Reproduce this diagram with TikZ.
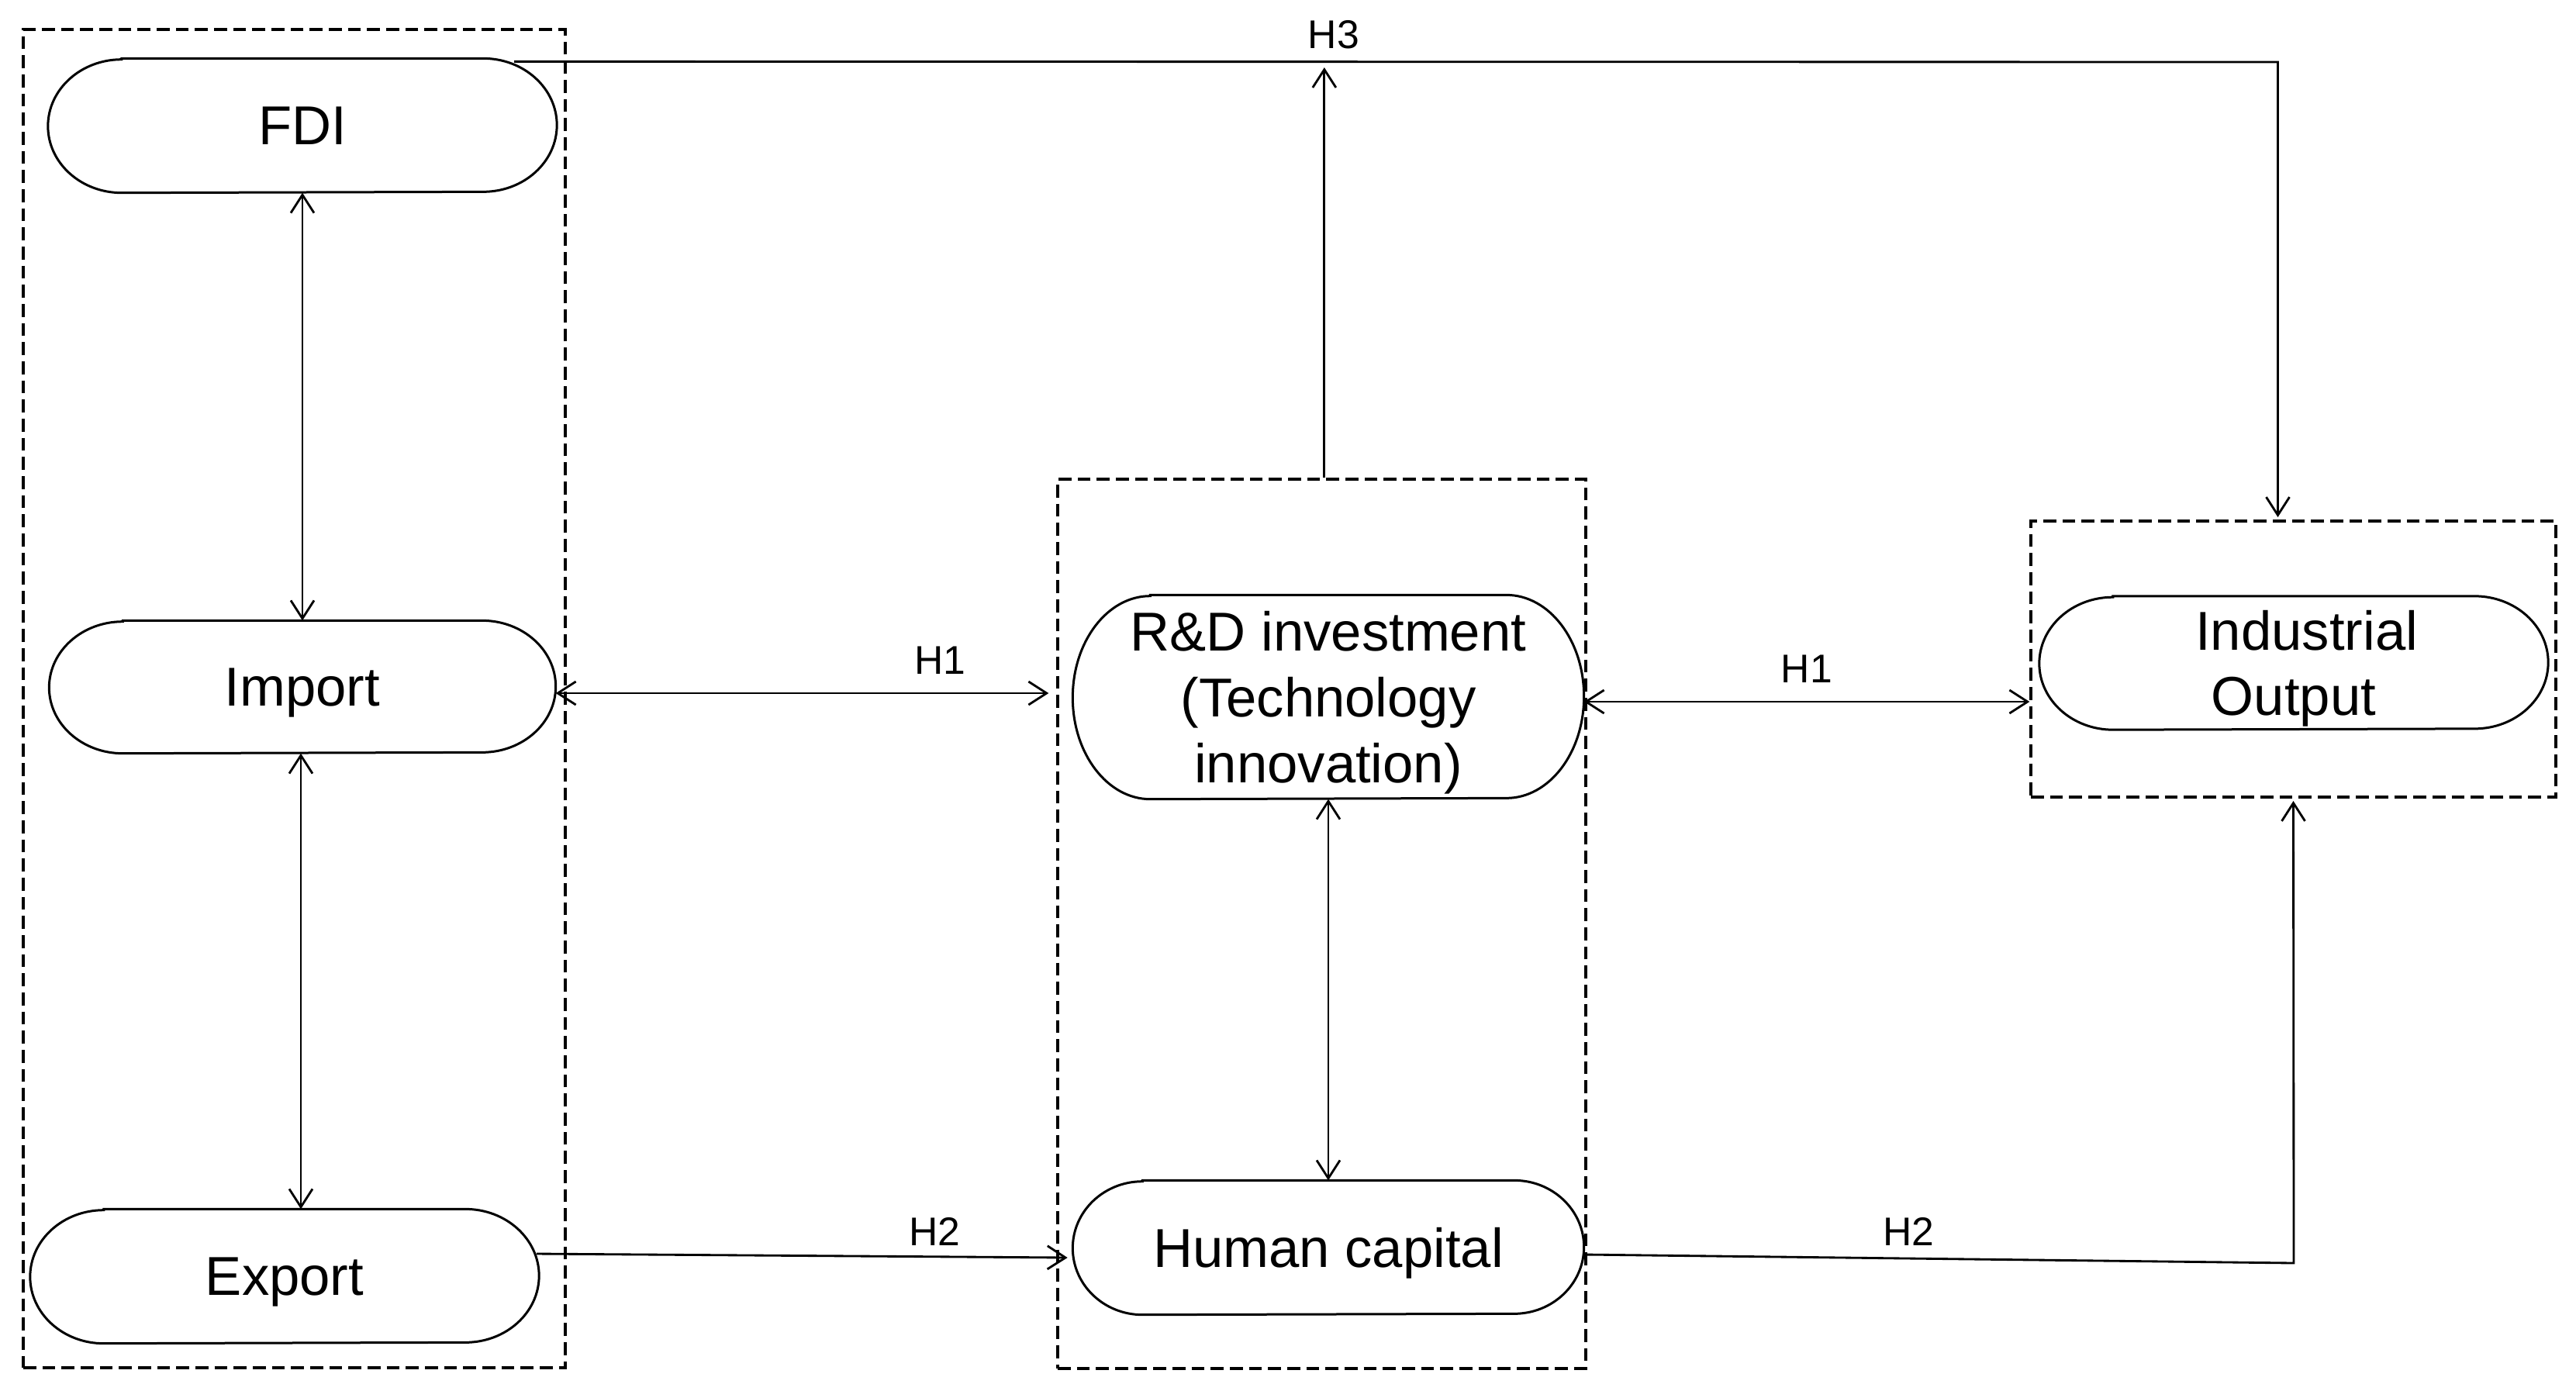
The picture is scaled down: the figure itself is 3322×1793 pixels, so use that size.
\documentclass[tikz,border=0pt]{standalone}
\usepackage{fontspec}
\setmainfont{Liberation Sans}
\usetikzlibrary{arrows.meta,calc}
\tikzset{
  pillnode/.style={draw=none, rectangle, inner sep=0pt, align=center, text depth=0pt,
    font=\fontsize{21.2}{25.4}\selectfont},
  pillline/.style={draw=black, line width=0.9pt},
  dashbox/.style={draw=black, line width=1pt, dash pattern=on 5pt off 2.4pt, rectangle, inner sep=0pt},
  conn/.style={draw=black, line width=0.85pt},
  hlabel/.style={font=\fontsize{15.5}{18}\selectfont, inner sep=0pt},
  >={Straight Barb[length=7pt,width=9pt]}
}
\newcommand\pillborder[3]{%
  \draw[pillline] ([xshift=#2]#1.north west) -- ([xshift=-#2]#1.north east)
    arc[start angle=90,end angle=-90,x radius=#2,y radius=#3]
    -- ([xshift=#2]#1.south west)
    arc[start angle=270,end angle=90,x radius=#2,y radius=#3] -- cycle;}
\begin{document}
\begin{tikzpicture}[x=0.3pt,y=-0.3pt]
\fill[white] (0,0) rectangle (3322,1793);
\useasboundingbox (0,0) rectangle (3322,1793);

% dashed group boxes
\node[dashbox, minimum width=209.7pt, minimum height=517.8pt] (box1) at (379.5,901) {};
\node[dashbox, minimum width=204.3pt, minimum height=344.1pt] (box2) at (1704.5,1191.5) {};
\node[dashbox, minimum width=203.1pt, minimum height=106.8pt] (box3) at (2957.5,850) {};

% nodes
\node[pillnode, minimum width=196.5pt, minimum height=51.6pt] (FDI) at (390,162) {FDI};
\node[pillnode, minimum width=195.6pt, minimum height=51pt] (Import) at (390,886) {Import};
\node[pillnode, minimum width=196.5pt, minimum height=51.6pt] (Export) at (367,1646) {Export};
\node[pillnode, minimum width=197.4pt, minimum height=78.6pt] (RD) at (1713,899) {R\&D investment\\(Technology\\innovation)};
\node[pillnode, minimum width=197.4pt, minimum height=51.6pt] (HC) at (1713,1609) {Human capital};
\node[pillnode, minimum width=196.5pt, minimum height=51.3pt] (IO) at (2958,855) {\hspace*{10pt}Industrial\\Output};

\pillborder{FDI}{28.5pt}{25.8pt}
\pillborder{Import}{28.5pt}{25.5pt}
\pillborder{Export}{28.5pt}{25.8pt}
\pillborder{RD}{30pt}{39.3pt}
\pillborder{HC}{27pt}{25.8pt}
\pillborder{IO}{28.5pt}{25.65pt}

% helper coordinates
\coordinate (topline) at (0,80);
\coordinate (hccorner) at (2958,1629);

% connectors
\draw[conn,<->] (FDI.south) -- (Import.north);
\draw[conn,<->] ([xshift=-0.6pt]Import.south) -- ([xshift=-0.6pt]Import.south |- Export.north);
\draw[conn,<->] ([yshift=-2.4pt]Import.east) -- ([yshift=-2.4pt,xshift=-3pt]Import.east -| box2.west)
  node[hlabel, pos=0.78, above=7pt] (h1a) {H1};
\draw[conn,<->] ([yshift=-1.8pt]RD.east) -- ([yshift=-1.8pt]RD.east -| box3.west)
  node[hlabel, pos=0.5, above=7pt] (h1b) {H1};
\draw[conn,<->] (RD.south) -- (RD.south |- HC.north);
\draw[conn,->] ([xshift=1pt]box2.north) -- ([xshift=1pt,yshift=-2.1pt]box2.north |- topline);
\draw[conn,->] ([xshift=81.9pt,yshift=-1.2pt]FDI.north) -- ([xshift=-6pt]box3.north |- topline)
  -- ([xshift=-6pt,yshift=1pt]box3.north);
\node[hlabel] (h3) at (1720,45) {H3};
\draw[conn,->] ([yshift=8.7pt,xshift=-1pt]Export.east) -- ([yshift=-3.9pt,xshift=-2pt]HC.west)
  node[hlabel, pos=0.75, above=4pt] (h2a) {H2};
\draw[conn,->] ([yshift=-2.7pt]HC.east) -- (hccorner) -- ([yshift=-1pt]box3.south);
\node[hlabel] (h2b) at (2461,1588) {H2};
\end{tikzpicture}
\end{document}
